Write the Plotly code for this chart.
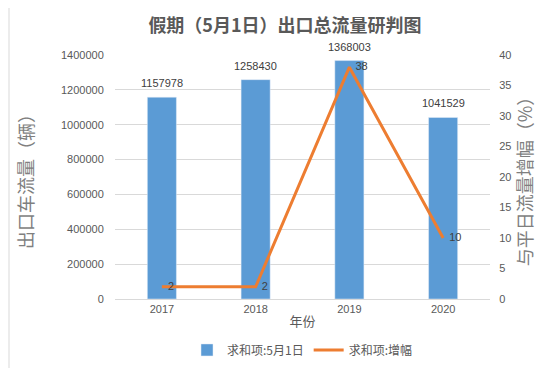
import plotly.graph_objects as go

years = ["2017", "2018", "2019", "2020"]
traffic = [1157978, 1258430, 1368003, 1041529]
growth = [2, 2, 38, 10]
left_ticks = [0, 200000, 400000, 600000, 800000, 1000000, 1200000, 1400000]
right_ticks = [0, 5, 10, 15, 20, 25, 30, 35, 40]

W, H = 554, 368
L, R, T, B = 107, 72, 47, 72
pw, ph = W - L - R, H - T - B

cjk = "Noto Sans CJK SC"
gray = "#595959"

fig = go.Figure()
fig.add_trace(go.Bar(
    x=years, y=traffic, name="求和项:5月1日",
    marker_color="#5B9BD5", width=0.31,
    cliponaxis=False,
))
fig.add_trace(go.Scatter(
    x=years, y=growth, name="求和项:增幅", yaxis="y2",
    mode="lines+text", line=dict(color="#ED7D31", width=3),
    text=[str(v) for v in growth], texttemplate="  %{text}", textposition="middle right",
    textfont=dict(size=11, color="#404040", family="Liberation Sans"),
    cliponaxis=False,
))

for i, yv in enumerate(traffic):
    fig.add_annotation(x=i, y=yv, xref="x", yref="y", text=str(yv), showarrow=False,
                       yanchor="bottom", yshift=6,
                       font=dict(size=11, color="#404040", family="Liberation Sans"))

# outer border
fig.add_shape(type="rect", xref="paper", yref="paper",
              x0=(1 - L) / pw, x1=(W - 2 - L) / pw,
              y0=(B - (H - 3)) / ph, y1=(B + ph + T - 1) / ph,
              line=dict(color="#D9D9D9", width=1), fillcolor="rgba(0,0,0,0)", layer="below")

fig.update_layout(
    width=W, height=H,
    margin=dict(l=L, r=R, t=T, b=B),
    paper_bgcolor="white", plot_bgcolor="white",
    title=dict(text="<b>假期（5月1日）出口总流量研判图</b>", x=0.5, xanchor="center",
               y=1 - 18 / H, yanchor="middle",
               font=dict(family=cjk, size=18, color=gray)),
    bargap=0.69,
    xaxis=dict(
        type="category", range=[-0.5, len(years) - 0.5],
        title=dict(text="年份", font=dict(family=cjk, size=13, color=gray), standoff=2),
        tickfont=dict(family="Liberation Sans", size=11, color=gray),
        showline=True, linecolor="#D9D9D9", ticks="",
    ),
    yaxis=dict(
        title=dict(text="出口车流量（辆）", font=dict(family=cjk, size=18, color="#7F7F7F"), standoff=22),
        range=[0, 1400000], tickvals=left_ticks, ticktext=[str(v) for v in left_ticks],
        tickfont=dict(family="Liberation Sans", size=11, color=gray),
        gridcolor="#D9D9D9", zeroline=False, ticklen=8, ticks="outside", tickcolor="white",
    ),
    yaxis2=dict(
        title=dict(text="与平日流量增幅（%）", font=dict(family=cjk, size=18, color="#7F7F7F"), standoff=8),
        overlaying="y", side="right", range=[0, 40], tickvals=right_ticks,
        tickfont=dict(family="Liberation Sans", size=11, color=gray),
        showgrid=False, zeroline=False, ticks="outside", ticklen=6, tickcolor="white",
    ),
    legend=dict(orientation="h", x=0.5, xanchor="center", y=-(348 - T - ph) / ph, yanchor="middle",
                font=dict(family=cjk, size=12, color=gray), itemwidth=30),
    showlegend=True,
)

fig.write_html("out.html")
